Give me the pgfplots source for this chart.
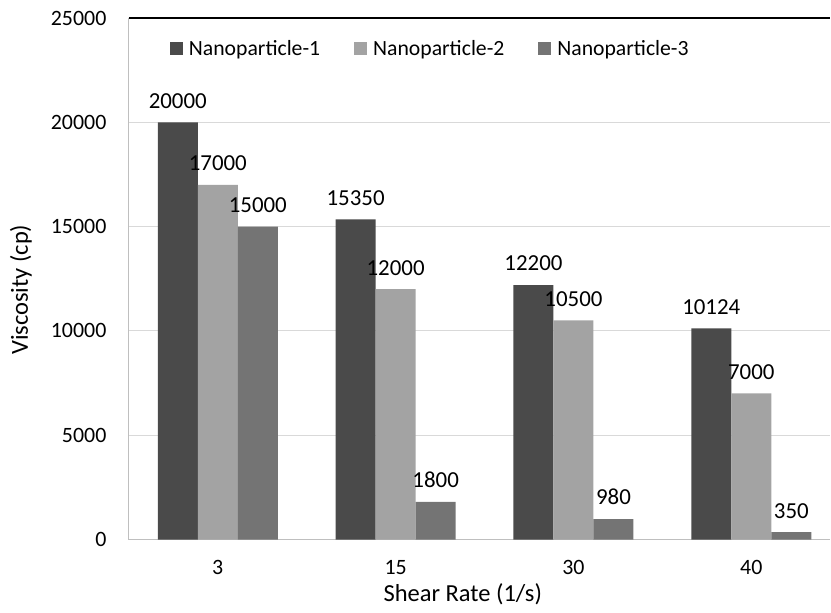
\documentclass[border=0pt]{standalone}
\usepackage{fontspec}
\setmainfont{Carlito}
\usepackage{pgfplots}
\pgfplotsset{compat=1.18}

\definecolor{npA}{HTML}{4A4A4A}
\definecolor{npB}{HTML}{A3A3A3}
\definecolor{npC}{HTML}{747474}
\definecolor{gridgray}{HTML}{D9D9D9}
\definecolor{axisgray}{HTML}{BFBFBF}

\begin{document}
\begin{tikzpicture}
\begin{axis}[
  scale only axis,
  width=702bp, height=522bp,
  xmin=-0.5, xmax=3.444,
  ymin=0, ymax=25000,
  ytick={0,5000,...,25000},
  xtick={0,1,2,3},
  xticklabels={3,15,30,40},
  scaled y ticks=false,
  /pgf/number format/1000 sep={},
  /pgf/number format/assume math mode=true,
  font=\fontsize{22}{26}\selectfont,
  major tick length=0pt,
  axis x line*=bottom, axis y line*=left,
  axis line style={axisgray, line width=1.2bp},
  ymajorgrids, grid style={gridgray, line width=1.2bp},
  yticklabel style={xshift=-19bp},
  xticklabel style={yshift=-17bp},
  xlabel={Shear Rate (1/s)},
  ylabel={Viscosity (cp)},
  xlabel style={at={(axis description cs:0.476,-0.1054)}, anchor=center, font=\fontsize{24.6}{29}\selectfont},
  ylabel style={at={(axis description cs:-0.1538,0.479)}, anchor=center, font=\fontsize{24.6}{29}\selectfont},
  ybar, bar width=0.225,
  clip=false,
  nodes near coords={\pgfmathprintnumber[fixed,precision=0,1000 sep={}]{\pgfplotspointmeta}},
  every node near coord/.append style={font=\fontsize{23}{27}\selectfont, black, yshift=10.5bp},
  legend columns=3,
  legend style={at={(rel axis cs:0.054,0.965)}, anchor=north west, draw=none, fill=none,
    font=\fontsize{21.8}{26}\selectfont,
    /tikz/every odd column/.append style={column sep=4bp},
    /tikz/every even column/.append style={column sep=32bp}},
  legend image code/.code={\fill[#1] (0bp,-6.5bp) rectangle (13bp,6.5bp);},
]
\addplot[fill=npA, draw=none, bar shift=-0.225] coordinates {(0,20000) (1,15350) (2,12200) (3,10124)};
\addplot[fill=npB, draw=none, bar shift=0] coordinates {(0,17000) (1,12000) (2,10500) (3,7000)};
\addplot[fill=npC, draw=none, bar shift=0.225] coordinates {(0,15000) (1,1800) (2,980) (3,350)};
\legend{Nanoparticle-1,Nanoparticle-2,Nanoparticle-3}
\draw[black, line width=1.5bp] (rel axis cs:0,1) -- (rel axis cs:1,1);
\coordinate (bl) at (rel axis cs:0,0);
\coordinate (tr) at (rel axis cs:1,1);
\end{axis}
\path ([shift={(-129bp,-73bp)}]bl) rectangle ([shift={(0bp,18bp)}]tr);
\end{tikzpicture}
\end{document}
